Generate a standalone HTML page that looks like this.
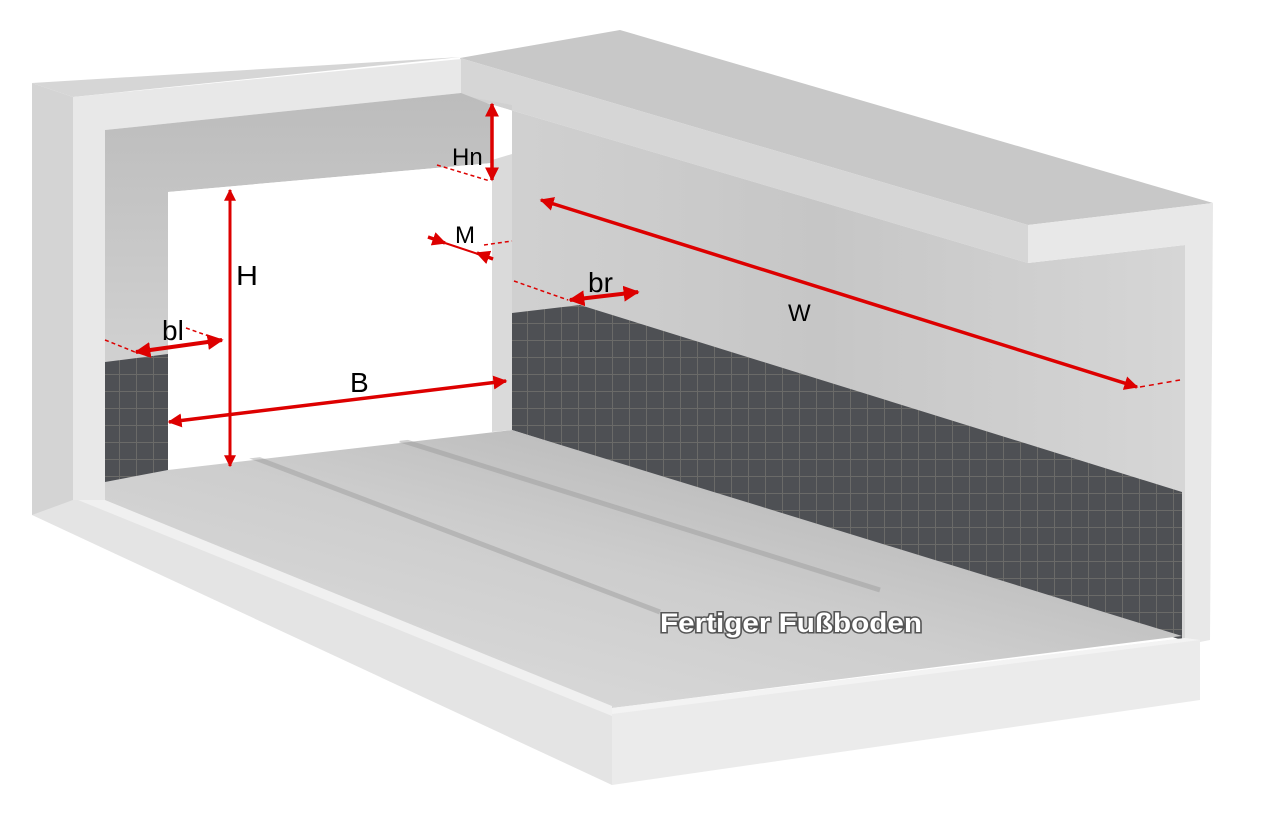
<!DOCTYPE html>
<html><head><meta charset="utf-8"><style>
html,body{margin:0;padding:0;background:#fff;}
svg{display:block;}
text{font-family:"Liberation Sans",sans-serif;}
</style></head><body>
<svg width="1280" height="830" viewBox="0 0 1280 830" xmlns="http://www.w3.org/2000/svg">
<defs>
<pattern id="tile" width="17" height="17" patternUnits="userSpaceOnUse">
<rect width="17" height="17" fill="#4e5054"/>
<path d="M0 0.5H17M0.5 0V17" stroke="#6a6a68" stroke-width="1"/>
</pattern>
<linearGradient id="rw" x1="0" y1="0" x2="1" y2="0">
<stop offset="0" stop-color="#d2d2d2"/><stop offset="0.5" stop-color="#c6c6c6"/><stop offset="1" stop-color="#d6d6d6"/>
</linearGradient>
<linearGradient id="fl" x1="0" y1="1" x2="1" y2="0">
<stop offset="0" stop-color="#e0e0e0"/><stop offset="0.5" stop-color="#cdcdcd"/><stop offset="1" stop-color="#a8a8a8"/>
</linearGradient>
<linearGradient id="fw" x1="0" y1="0" x2="0" y2="1">
<stop offset="0" stop-color="#bcbcbc"/><stop offset="1" stop-color="#dadada"/>
</linearGradient>
<marker id="ah" viewBox="0 0 10 10" refX="9" refY="5" markerWidth="4" markerHeight="4" orient="auto-start-reverse">
<path d="M0 0L10 5L0 10z" fill="#dd0000"/>
</marker>
</defs>

<polygon points="460,58 620,30 1213,203 1028,225" fill="#c8c8c8"/>
<polygon points="460,58 1028,225 1028,263 460,95" fill="#d6d6d6"/>
<polygon points="460,95 1028,263 1185,245 1185,640 512,430 512,105" fill="url(#rw)"/>
<polygon points="1028,225 1213,203 1210,640 1185,645 1185,245 1028,263" fill="#e8e8e8"/>
<polygon points="512,313 580,305 1182,492 1182,640 512,430" fill="url(#tile)"/>
<polygon points="105,480 168,470 512,430 1182,636 612,708 90,505" fill="url(#fl)"/>
<path d="M250,456 L660,612" stroke="#9a9a9a" stroke-width="5" opacity="0.45"/>
<path d="M400,440 L880,590" stroke="#9a9a9a" stroke-width="5" opacity="0.45"/>
<polygon points="32,480 90,500 612,712 612,785 32,515" fill="#e4e4e4"/>
<polygon points="78,500 105,500 612,706 612,716" fill="#f0f0f0"/>
<polygon points="612,708 1185,638 1200,640 1200,700 612,785" fill="#ebebeb"/>
<polygon points="612,708 1185,638 1200,640 612,714" fill="#f3f3f3"/>
<polygon points="32,83 461,57 73,97" fill="#d6d6d6"/>
<polygon points="32,83 73,97 73,500 32,515" fill="#d4d4d4"/>
<polygon points="73,97 461,59 461,93 105,130 105,500 73,500" fill="#e8e8e8"/>
<polygon points="105,130 461,93 492,105 492,163 168,192 168,470 105,482" fill="url(#fw)"/>
<polygon points="492,160 512,154 512,430 492,432" fill="#dadada"/>
<polygon points="168,192 492,163 492,430 168,468" fill="#ffffff"/>
<polygon points="105,362 168,354 168,470 105,482" fill="url(#tile)"/>

<g stroke="#dd0000" fill="none">
<line x1="230" y1="190" x2="230" y2="466" stroke-width="3" marker-start="url(#ah)" marker-end="url(#ah)"/>
<line x1="492" y1="104" x2="492" y2="180" stroke-width="3.5" marker-start="url(#ah)" marker-end="url(#ah)"/>
<line x1="437" y1="165" x2="490" y2="181" stroke-width="1.5" stroke-dasharray="4,3"/>
<line x1="428" y1="237" x2="445" y2="243" stroke-width="3.5" marker-end="url(#ah)"/>
<line x1="445" y1="243" x2="493" y2="259" stroke-width="2"/>
<line x1="493" y1="259" x2="477" y2="253" stroke-width="3.5" marker-end="url(#ah)"/>
<line x1="484" y1="245" x2="512" y2="241" stroke-width="1.5" stroke-dasharray="4,3"/>
<line x1="136" y1="352" x2="222" y2="340" stroke-width="4" marker-start="url(#ah)" marker-end="url(#ah)"/>
<line x1="105" y1="340" x2="135" y2="352" stroke-width="1.5" stroke-dasharray="4,3"/>
<line x1="186" y1="328" x2="220" y2="340" stroke-width="1.5" stroke-dasharray="4,3"/>
<line x1="570" y1="300" x2="638" y2="292" stroke-width="4" marker-start="url(#ah)" marker-end="url(#ah)"/>
<line x1="514" y1="281" x2="568" y2="300" stroke-width="1.5" stroke-dasharray="4,3"/>
<line x1="169" y1="422" x2="506" y2="381" stroke-width="3.5" marker-start="url(#ah)" marker-end="url(#ah)"/>
<line x1="541" y1="200" x2="1137" y2="387" stroke-width="3.5" marker-start="url(#ah)" marker-end="url(#ah)"/>
<line x1="1140" y1="387" x2="1180" y2="380" stroke-width="1.5" stroke-dasharray="5,4"/>
</g>
<g fill="#000" font-size="28">
<text x="236" y="285" textLength="22" lengthAdjust="spacingAndGlyphs">H</text>
<text x="452" y="165" font-size="24">Hn</text>
<text x="455" y="243" font-size="24">M</text>
<text x="162" y="340">bl</text>
<text x="588" y="292">br</text>
<text x="350" y="392">B</text>
<text x="788" y="321" font-size="24">W</text>
</g>
<text x="660" y="632" font-size="27" font-weight="bold" fill="#fff" stroke="#555" stroke-width="3" paint-order="stroke" textLength="262" lengthAdjust="spacingAndGlyphs">Fertiger Fußboden</text>
</svg>
</body></html>
